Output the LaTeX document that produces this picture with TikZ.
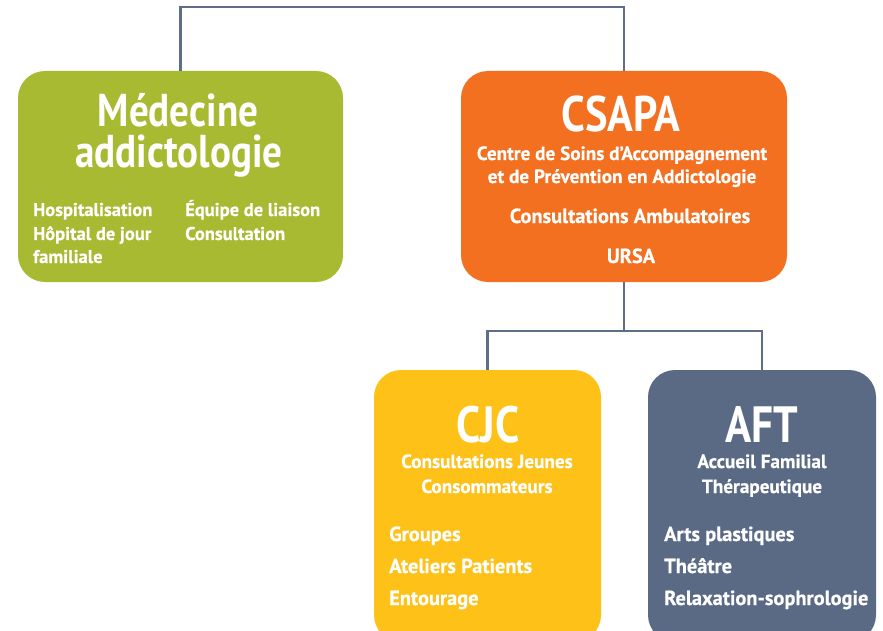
\documentclass[tikz,border=0pt]{standalone}
\usepackage{fontspec}
\setmainfont{PT Sans}[BoldFeatures={FakeBold=0.5}]
\newfontfamily\titlefont{PT Sans}[FakeStretch=0.85]
\begin{document}
\begin{tikzpicture}[x=1pt,y=-1pt,
  box/.style={rectangle,rounded corners=27pt,draw=none,inner sep=0pt},
  link/.style={draw=linec,line width=2.6pt},
  t/.style={text=white,inner sep=0pt},
  ttl/.style={t,anchor=base,text depth=0pt,font=\titlefont\bfseries\fontsize{#1}{#1}\selectfont},
  sub/.style={t,anchor=base,font=\bfseries\fontsize{19.2}{19.2}\selectfont},
  sm/.style={t,anchor=base west,font=\bfseries\fontsize{18.5}{18.5}\selectfont},
  bg/.style={t,anchor=base west,font=\bfseries\fontsize{20.4}{20.4}\selectfont},
  ]
\definecolor{gr}{HTML}{A8BA32}
\definecolor{orc}{HTML}{F37021}
\definecolor{ye}{HTML}{FDC117}
\definecolor{sl}{HTML}{5B6A84}
\definecolor{linec}{HTML}{5E6D88}
\clip (0,0) rectangle (883,631);
\fill[white] (0,0) rectangle (883,631);
% boxes
\node[box,fill=gr,minimum width=325pt,minimum height=211pt] (med) at (180.5,176.5) {};
\node[box,fill=orc,minimum width=326pt,minimum height=211pt] (csapa) at (624,176.5) {};
\node[box,fill=ye,minimum width=227pt,minimum height=272pt] (cjc) at (487.5,506) {};
\node[box,fill=sl,minimum width=228pt,minimum height=272pt] (aft) at (762,506) {};
% connectors
\coordinate (top) at (400,7);
\coordinate (split) at (624,331);
\draw[link] (med.north) |- (top) -| (csapa.north);
\draw[link] (csapa.south) -- (split);
\draw[link] (cjc.north) |- (split) -| (aft.north);
% green text
\node[ttl=46] (m1) at (178,127) {Médecine};
\node[ttl=46] (m2) at (179,168) {addictologie};
\node[sm] (m3) at (33,216) {Hospitalisation};
\node[sm] (m4) at (33,240) {Hôpital de jour};
\node[sm] (m5) at (33,263) {familiale};
\node[sm] (m6) at (185,216) {Équipe de liaison};
\node[sm] (m7) at (185,240) {Consultation};
% orange text
\node[ttl=50] (c1) at (621,132) {CSAPA};
\node[sub] (c2) at (622,160) {Centre de Soins d’Accompagnement};
\node[sub] (c3) at (622,183) {et de Prévention en Addictologie};
\node[t,anchor=base,font=\bfseries\fontsize{20.4}{20.4}\selectfont] (c4) at (630,223) {Consultations Ambulatoires};
\node[t,anchor=base,font=\bfseries\fontsize{20.4}{20.4}\selectfont] (c5) at (631,263) {URSA};
% yellow text
\node[ttl=51] (j1) at (488,442) {CJC};
\node[sub] (j2) at (487,468) {Consultations Jeunes};
\node[sub] (j3) at (487,493) {Consommateurs};
\node[bg] (j4) at (389,541) {Groupes};
\node[bg] (j5) at (389,573) {Ateliers Patients};
\node[bg] (j6) at (389,605) {Entourage};
% slate text
\node[ttl=51] (a1) at (762,442) {AFT};
\node[sub] (a2) at (762,468) {Accueil Familial};
\node[sub] (a3) at (762,493) {Thérapeutique};
\node[bg] (a4) at (664,541) {Arts plastiques};
\node[bg] (a5) at (664,573) {Théâtre};
\node[bg] (a6) at (664,605) {Relaxation-sophrologie};
\end{tikzpicture}
\end{document}
